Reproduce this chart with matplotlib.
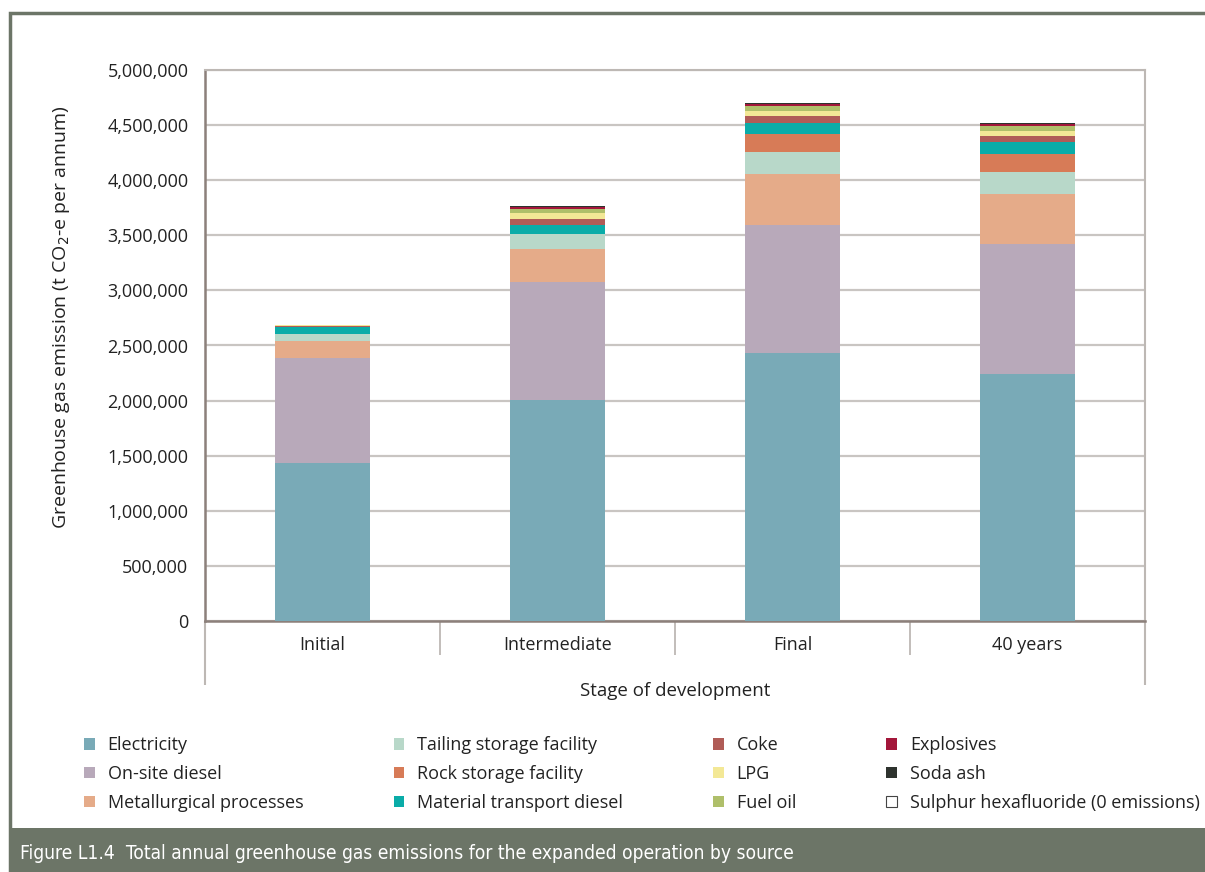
import matplotlib
matplotlib.use("Agg")
import numpy as np
import matplotlib.pyplot as plt
from matplotlib.patches import Rectangle
from matplotlib.ticker import FuncFormatter

plt.rcParams["font.family"] = ["Open Sans", "DejaVu Sans"]

stages = ["Initial", "Intermediate", "Final", "40 years"]

sources = [
    "Electricity",
    "On-site diesel",
    "Metallurgical processes",
    "Tailing storage facility",
    "Rock storage facility",
    "Material transport diesel",
    "Coke",
    "LPG",
    "Fuel oil",
    "Explosives",
    "Soda ash",
    "Sulphur hexafluoride (0 emissions)",
]

# t CO2-e per annum, per source, per stage
electricity = [1435000, 2005000, 2430000, 2240000]
onsite_diesel = [951000, 1071000, 1160000, 1185000]
metallurgical = [155000, 300000, 466000, 450000]
tailing = [63000, 136000, 200000, 199000]
rock_storage = [0, 0, 163000, 163000]
material_transport = [61000, 82000, 103000, 110000]
coke = [14000, 54000, 60000, 54000]
lpg = [5000, 54000, 46000, 45000]
fuel_oil = [0, 39000, 42000, 43000]
explosives = [0, 16000, 18000, 21000]
soda_ash = [0, 9000, 12000, 12000]
sulphur_hexafluoride = [0, 0, 0, 0]

series = [electricity, onsite_diesel, metallurgical, tailing, rock_storage,
          material_transport, coke, lpg, fuel_oil, explosives, soda_ash,
          sulphur_hexafluoride]

colors = ["#79aab7", "#b8a9ba", "#e5ab89", "#b8d8c9", "#d77b57", "#0aaca8",
          "#b05c57", "#f3e896", "#afbf6a", "#a3163a", "#2e332e", "#ffffff"]

W, H = 1205, 872
fig = plt.figure(figsize=(W / 100, H / 100), dpi=100)

# outer frame and caption band
frame_col = "#6c7567"
fig.patches.append(Rectangle((10 / W, 0), 1.2, (H - 13) / H, transform=fig.transFigure,
                             facecolor="none", edgecolor=frame_col, linewidth=2.5))
fig.patches.append(Rectangle((10 / W, 0), 1.0, (H - 828) / H, transform=fig.transFigure,
                             facecolor=frame_col, edgecolor="none"))
fig.text(20 / W, 1 - 853 / H,
         "Figure L1.4  Total annual greenhouse gas emissions for the expanded operation by source",
         color="white", fontsize=13.8, va="center", ha="left",
         family="DejaVu Sans", fontstretch="condensed")

ax = fig.add_axes([205 / W, 1 - 621 / H, 940 / W, 551 / H])

x = np.arange(len(stages))
bottom = np.zeros(len(stages))
for vals, col in zip(series, colors):
    ax.bar(x, vals, width=0.405, bottom=bottom, color=col, edgecolor="none", zorder=3)
    bottom += np.array(vals)

ax.set_xlim(-0.5, 3.5)
ax.set_ylim(0, 5000000)
ax.set_yticks(np.arange(0, 5000001, 500000))
ax.yaxis.set_major_formatter(FuncFormatter(lambda v, p: f"{int(v):,}"))
ax.set_xticks(x)
ax.set_xticklabels(stages)
ax.tick_params(axis="both", length=0, labelsize=13, labelcolor="#222222")
ax.tick_params(axis="y", pad=12)
ax.tick_params(axis="x", pad=11)
ax.grid(axis="y", color="#c9c5c2", linewidth=1.6, zorder=0)

for side in ["top", "right"]:
    ax.spines[side].set_color("#bdb8b4")
    ax.spines[side].set_linewidth(1.5)
ax.spines["left"].set_color("#8c807b")
ax.spines["left"].set_linewidth(1.8)
ax.spines["bottom"].set_color("#8c807b")
ax.spines["bottom"].set_linewidth(1.8)

# category separators and side rails below the axis
tr = ax.get_xaxis_transform()
ax.vlines([0.5, 1.5, 2.5], -34 / 551, 0, transform=tr, color="#bdb8b4",
          linewidth=1.3, clip_on=False)
ax.vlines([-0.5, 3.5], -64 / 551, 0, transform=tr, color="#bdb8b4",
          linewidth=1.5, clip_on=False)

ax.set_xlabel("Stage of development", fontsize=13.5, color="#222222", labelpad=20)
ax.set_ylabel("Greenhouse gas emission (t CO$_2$-e per annum)", fontsize=14,
              color="#222222")
ax.yaxis.set_label_coords(-0.1415, 0.552)

handles = []
for col in colors:
    edge = "#444444" if col == "#ffffff" else "none"
    handles.append(Rectangle((0, 0), 1, 1, facecolor=col, edgecolor=edge, linewidth=0.8))
fig.legend(handles, sources, ncol=4, loc="upper left",
           bbox_to_anchor=(68 / W, 1 - 720 / H), frameon=False, fontsize=13,
           handlelength=0.6, handleheight=0.6, handletextpad=0.7,
           columnspacing=5.0, labelspacing=0.6, labelcolor="#222222")

fig.savefig("out.png", dpi=100)
